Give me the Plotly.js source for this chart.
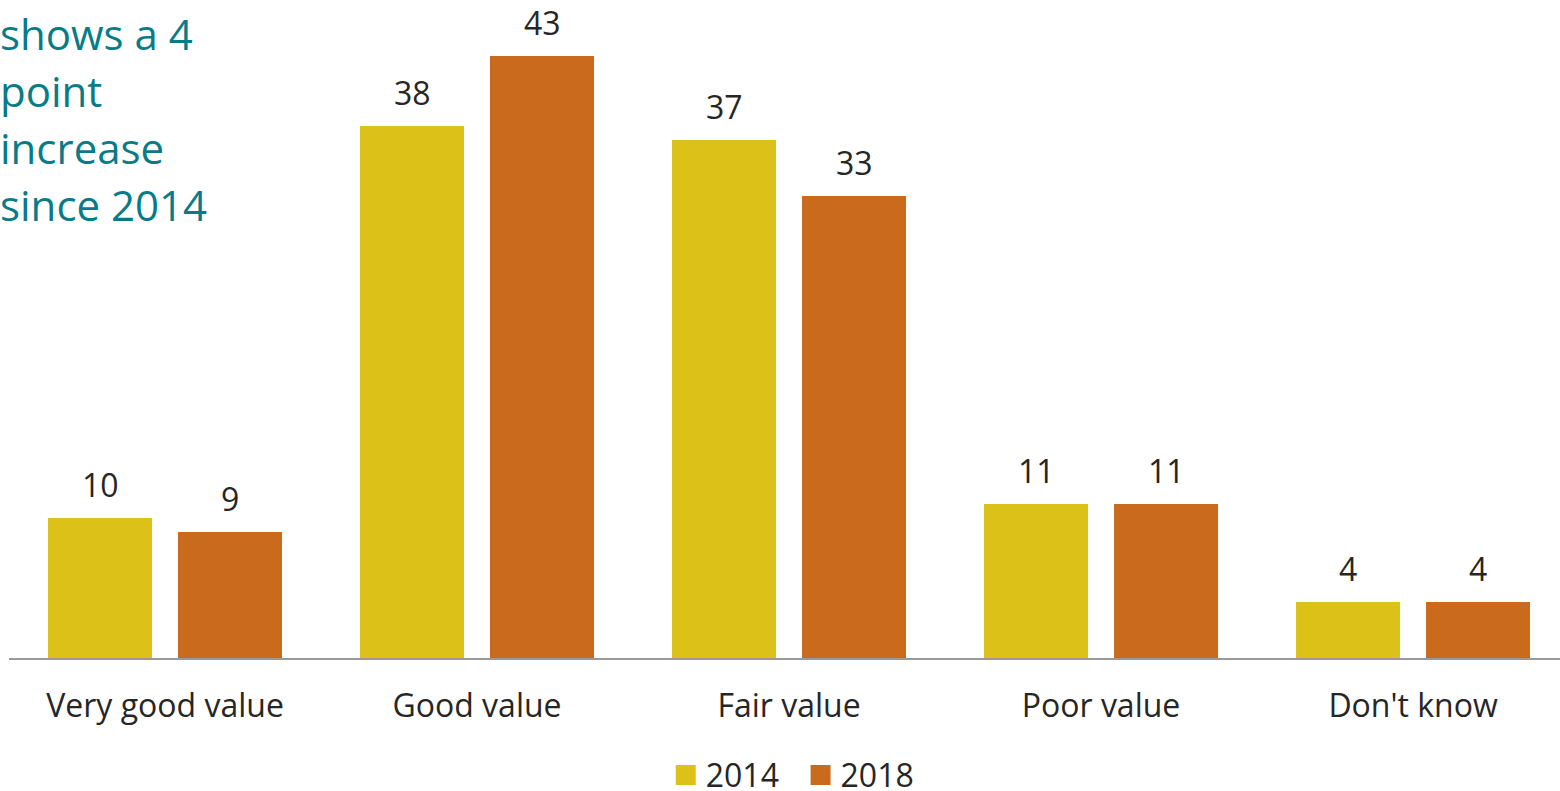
<!DOCTYPE html>
<html>
<head>
<meta charset="utf-8">
<script src="https://cdn.plot.ly/plotly-3.0.1.min.js"></script>
<style>html,body{margin:0;padding:0;background:#fff;}#chart{width:1560px;height:791px;}</style>
</head>
<body>
<div id="chart"></div>
<script>
const categories = ["Very good value", "Good value", "Fair value", "Poor value", "Don't know"];
const series2014 = [10, 38, 37, 11, 4];
const series2018 = [9, 43, 33, 11, 4];
const seriesNames = ["2014", "2018"];
const noteLines = ["shows a 4", "point", "increase", "since 2014"];

const FONT = "Open Sans, Noto Sans, sans-serif";
const colors = ["#DBC118", "#C96A1C"];
const idx = categories.map((c, i) => i);

const traces = [series2014, series2018].map((vals, k) => ({
  type: "bar",
  name: seriesNames[k],
  x: idx,
  y: vals,
  marker: {color: colors[k]},
  hoverinfo: "skip",
  showlegend: false
}));
// legend entries with larger square symbols
seriesNames.forEach((n, k) => {
  traces.push({
    type: "scatter", mode: "markers",
    name: k === 0 ? n + "\u00a0\u00a0" : n,
    x: [null], y: [null],
    marker: {symbol: "square", size: 16, color: colors[k], line: {color: colors[k], width: 4}},
    showlegend: true, hoverinfo: "skip"
  });
});

const offset = 0.2083;
const annotations = [];
[series2014, series2018].forEach((vals, k) => {
  vals.forEach((v, i) => {
    annotations.push({
      x: i + (k === 0 ? -offset : offset), y: v, xref: "x", yref: "y",
      text: String(v), showarrow: false, yanchor: "bottom", yshift: 10,
      font: {family: FONT, size: 32, color: "#262626"}
    });
  });
});
noteLines.forEach((t, i) => {
  annotations.push({
    xref: "paper", yref: "paper", x: 0, y: 1, xanchor: "left", yanchor: "middle",
    xshift: -11, yshift: -(33 + 57 * i), align: "left", showarrow: false, text: t,
    font: {family: FONT, size: 42, color: "#077C88"}
  });
});

const layout = {
  width: 1560, height: 791,
  margin: {l: 9, r: 0, t: 0, b: 133, autoexpand: false},
  paper_bgcolor: "#fff", plot_bgcolor: "#fff",
  barmode: "group", bargap: 0.1667, bargroupgap: 0.2,
  showlegend: true,
  legend: {orientation: "h", x: 0.505, xanchor: "center", y: -0.178, yanchor: "middle",
           itemsizing: "trace", itemwidth: 30,
           font: {family: FONT, size: 32, color: "#262626"}},
  xaxis: {
    tickmode: "array", tickvals: idx, ticktext: categories,
    range: [-0.5, 4.471], showgrid: false, zeroline: false,
    showline: true, linecolor: "#999", linewidth: 2, ticks: "",
    ticklabelstandoff: 19, automargin: false,
    tickfont: {family: FONT, size: 32, color: "#262626"}, fixedrange: true
  },
  yaxis: {range: [0, 47], visible: false, showgrid: false, zeroline: false, fixedrange: true},
  annotations: annotations
};

Plotly.newPlot("chart", traces, layout, {displayModeBar: false, staticPlot: true});
</script>
</body>
</html>
